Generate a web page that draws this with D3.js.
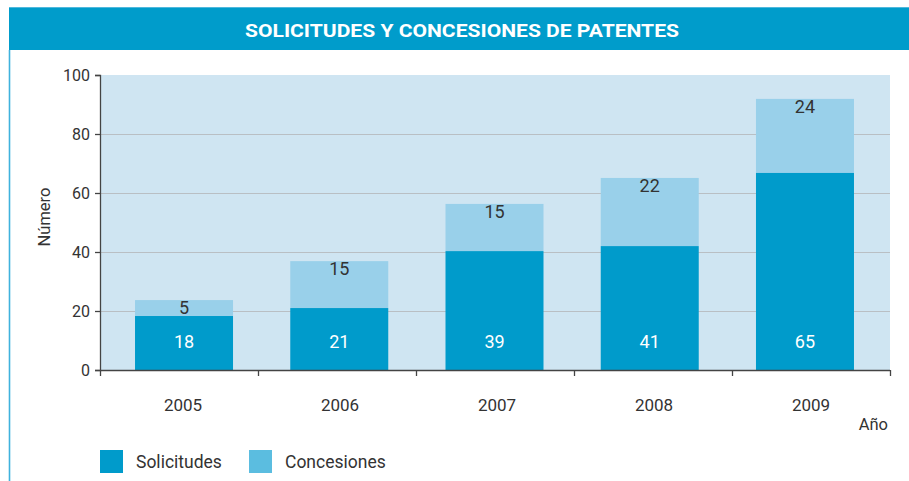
<!DOCTYPE html>
<html>
<head>
<meta charset="utf-8">
<script src="https://cdn.jsdelivr.net/npm/d3@7"></script>
<style>
  html, body { margin: 0; padding: 0; background: #fff; }
  svg { display: block; font-family: Roboto, "Noto Sans", sans-serif; }
</style>
</head>
<body>
<svg id="chart" width="909" height="481"></svg>
<script>
// ---- data ----
const title = "SOLICITUDES Y CONCESIONES DE PATENTES";
const years = ["2005", "2006", "2007", "2008", "2009"];
// printed values
const solicitudesLabels = [18, 21, 39, 41, 65];
const concesionesLabels = [5, 15, 15, 22, 24];
// bar heights as drawn in the reference
const solicitudesBar = [18.3, 21.0, 40.3, 42.0, 66.8];
const concesionesBar = [5.4, 15.9, 16.0, 23.1, 25.1];
const yTicks = [0, 20, 40, 60, 80, 100];
const seriesNames = ["Solicitudes", "Concesiones"];
const yLabel = "Número";
const xLabel = "Año";

// ---- styling ----
const cSol = "#009bcb";
const cCon = "#99d0ea";
const cConLegend = "#5bbde0";
const cBg = "#cfe5f2";
const cText = "#333333";

const svg = d3.select("#chart");

// frame: title band + left rule
svg.append("rect").attr("x", 9).attr("y", 7).attr("width", 900).attr("height", 43).attr("fill", "#009ccb");
svg.append("line").attr("x1", 9).attr("x2", 909).attr("y1", 7.5).attr("y2", 7.5).attr("stroke", "#4fb8dc").attr("stroke-width", 1);
svg.append("line").attr("x1", 9.5).attr("x2", 9.5).attr("y1", 50).attr("y2", 481).attr("stroke", "#3fb2dd").attr("stroke-width", 1.6);
svg.append("text").attr("x", 462).attr("y", 37)
  .attr("text-anchor", "middle").attr("fill", "#fff")
  .attr("font-size", 19).attr("font-weight", 700)
  .attr("textLength", 434).attr("lengthAdjust", "spacingAndGlyphs")
  .text(title);

// ---- scales ----
const x = d3.scaleBand().domain(years).range([100, 890]);          // axis ticks
const xBar = d3.scaleBand().domain(years).range([106.4, 882.6]);   // bar positions
const xLab = d3.scaleBand().domain(years).range([104.5, 889.5]);   // year labels
const y = d3.scaleLinear().domain([0, 100]).range([370, 75]);
const barW = 98;

// plot background
svg.append("rect").attr("x", 100).attr("y", y(100)).attr("width", 790).attr("height", y(0) - y(100)).attr("fill", cBg);

// gridlines
svg.append("g").selectAll("line").data(yTicks.filter(t => t > 0 && t < 100)).join("line")
  .attr("x1", 100).attr("x2", 890)
  .attr("y1", d => Math.round(y(d)) + 0.5).attr("y2", d => Math.round(y(d)) + 0.5)
  .attr("stroke", "#b9bfc4").attr("stroke-width", 1.2);

// bars
const gBars = svg.append("g");
years.forEach((yr, i) => {
  const cx = xBar(yr) + xBar.bandwidth() / 2;
  const bx = cx - barW / 2;
  const s = solicitudesBar[i], c = concesionesBar[i];
  gBars.append("rect").attr("x", bx).attr("width", barW)
    .attr("y", y(s + c)).attr("height", y(s) - y(s + c)).attr("fill", cCon);
  gBars.append("rect").attr("x", bx).attr("width", barW)
    .attr("y", y(s)).attr("height", y(0) - y(s)).attr("fill", cSol);
  gBars.append("text").attr("x", cx).attr("y", 348)
    .attr("text-anchor", "middle").attr("fill", "#fff").attr("font-size", 18)
    .text(solicitudesLabels[i]);
  gBars.append("text").attr("x", cx).attr("y", y(s + c) + 14)
    .attr("text-anchor", "middle").attr("fill", cText).attr("font-size", 18)
    .text(concesionesLabels[i]);
});

// y axis
const yAxis = svg.append("g").attr("transform", "translate(100,0)")
  .call(d3.axisLeft(y).tickValues(yTicks).tickSize(5).tickPadding(5));
yAxis.select(".domain").attr("stroke", "#444").attr("stroke-width", 1.3);
yAxis.selectAll(".tick line").attr("stroke", "#444").attr("stroke-width", 1.3);
yAxis.selectAll(".tick text").attr("fill", cText).attr("font-size", 16).attr("font-family", "Roboto, sans-serif");

// x axis (ticks at band boundaries)
const xg = svg.append("g");
xg.append("line").attr("x1", 100).attr("x2", 890).attr("y1", 370.5).attr("y2", 370.5).attr("stroke", "#444").attr("stroke-width", 1.5);
const bounds = years.map(d => x(d)).concat([x(years[years.length - 1]) + x.bandwidth()]);
xg.selectAll("line.tk").data(bounds).join("line").attr("class", "tk")
  .attr("x1", d => d + 0.5).attr("x2", d => d + 0.5).attr("y1", 370).attr("y2", 376)
  .attr("stroke", "#444").attr("stroke-width", 1.3);
xg.selectAll("text.yr").data(years).join("text").attr("class", "yr")
  .attr("x", d => xLab(d) + xLab.bandwidth() / 2).attr("y", 411)
  .attr("text-anchor", "middle").attr("fill", cText).attr("font-size", 17)
  .text(d => d);

// axis titles
svg.append("text").attr("transform", "translate(50,217) rotate(-90)")
  .attr("text-anchor", "middle").attr("fill", cText).attr("font-size", 16.5).text(yLabel);
svg.append("text").attr("x", 888).attr("y", 430).attr("text-anchor", "end")
  .attr("fill", cText).attr("font-size", 16.5).text(xLabel);

// legend
const legendColors = [cSol, cConLegend];
const legendX = [100, 249];
seriesNames.forEach((n, i) => {
  svg.append("rect").attr("x", legendX[i]).attr("y", 450).attr("width", 23).attr("height", 23).attr("fill", legendColors[i]);
  svg.append("text").attr("x", legendX[i] + 36).attr("y", 467.5).attr("fill", cText).attr("font-size", 17.5).text(n);
});
</script>
</body>
</html>
